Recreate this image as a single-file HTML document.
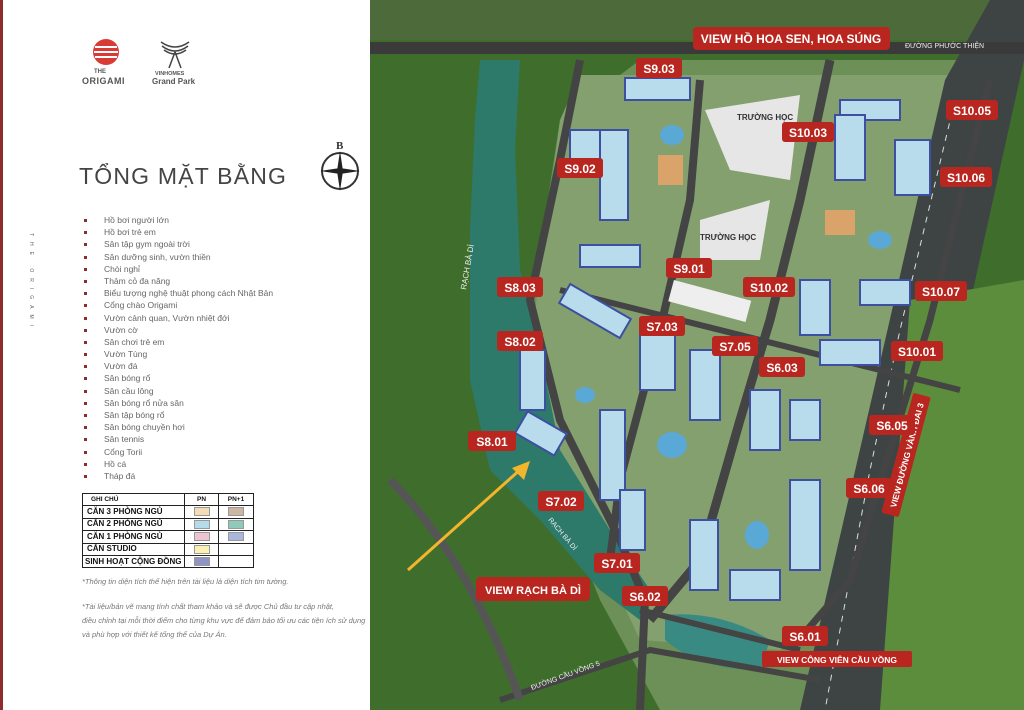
<!DOCTYPE html>
<html><head><meta charset="utf-8"><style>
*{margin:0;padding:0;box-sizing:border-box}
body{width:1024px;height:710px;overflow:hidden;background:#fff;font-family:"Liberation Sans","Noto Sans CJK SC",sans-serif;position:relative}
#left{position:absolute;left:0;top:0;width:370px;height:710px;background:#fff;border-left:3px solid #8e2b2b}
.t{position:absolute;color:#555}
ul{position:absolute;left:81px;top:214px;list-style:none}
li{font-size:8.5px;color:#666;height:12.2px;line-height:12.2px;position:relative;padding-left:20px}
li:before{content:"";position:absolute;left:0;top:5px;width:3px;height:3px;background:#8e2b2b}
table{position:absolute;left:79px;top:493px;border-collapse:collapse;font-size:8px;font-weight:bold;color:#111}
td{border:1px solid #222;height:12.4px;padding:0 4px;line-height:10px}
.sw{display:inline-block;width:16px;height:9px;border:1px solid #999;vertical-align:middle}
.n{position:absolute;font-size:7.5px;font-style:italic;color:#777;line-height:14px}
</style></head><body>
<div id="left">
<svg style="position:absolute;left:88px;top:38px" width="32" height="30" viewBox="0 0 32 30"><circle cx="15" cy="14" r="13" fill="#d83a36"/><path d="M4 9h22M3 14h24M4 19h22" stroke="#fff" stroke-width="2"/></svg>
<div class="t" style="left:91px;top:69px;font-size:6px;font-weight:bold">THE</div>
<div class="t" style="left:79px;top:76px;font-size:9px;font-weight:bold;letter-spacing:0.5px">ORIGAMI</div>
<svg style="position:absolute;left:156px;top:38px" width="32" height="32"><path d="M2 4 Q16 14 30 4 M3 8 Q16 18 29 8 M5 12 Q16 20 27 12 M10 30 L16 14 L22 30" stroke="#444" fill="none" stroke-width="1.5"/></svg>
<div class="t" style="left:152px;top:71px;font-size:5.5px;font-weight:bold">VINHOMES</div>
<div class="t" style="left:149px;top:77px;font-size:8px;font-weight:bold">Grand Park</div>
<div class="t" style="left:76px;top:163px;font-size:23px;letter-spacing:1.2px;color:#444">TỔNG MẶT BẰNG</div>
<svg style="position:absolute;left:314px;top:136px" width="46" height="56"><text x="19" y="13" font-family="Liberation Serif" font-weight="bold" font-size="11" fill="#333">B</text><circle cx="23" cy="35" r="18" fill="none" stroke="#333" stroke-width="2"/><path d="M23 15 L26 35 L23 55 L20 35Z M3 35 L23 32 L43 35 L23 38Z" fill="#222"/></svg>
<div class="t" style="left:18px;top:320px;font-size:5px;letter-spacing:6px;transform:rotate(90deg);transform-origin:center;width:180px;margin-left:-80px;color:#666">THE ORIGAMI</div>
<ul>
<li>Hồ bơi người lớn</li><li>Hồ bơi trẻ em</li><li>Sân tập gym ngoài trời</li><li>Sân dưỡng sinh, vườn thiền</li><li>Chòi nghỉ</li><li>Thảm cỏ đa năng</li><li>Biểu tượng nghệ thuật phong cách Nhật Bản</li><li>Cổng chào Origami</li><li>Vườn cảnh quan, Vườn nhiệt đới</li><li>Vườn cờ</li><li>Sân chơi trẻ em</li><li>Vườn Tùng</li><li>Vườn đá</li><li>Sân bóng rổ</li><li>Sân cầu lông</li><li>Sân bóng rổ nửa sân</li><li>Sân tập bóng rổ</li><li>Sân bóng chuyền hơi</li><li>Sân tennis</li><li>Cổng Torii</li><li>Hồ cá</li><li>Tháp đá</li>
</ul>
<table>
<tr><td style="width:102px;font-size:6.5px;padding-left:8px">GHI CHÚ</td><td style="width:34px;text-align:center;font-size:6.5px">PN</td><td style="width:35px;text-align:center;font-size:6.5px">PN+1</td></tr>
<tr><td>CĂN 3 PHÒNG NGỦ</td><td style="text-align:center"><span class="sw" style="background:#f3dcb6"></span></td><td style="text-align:center"><span class="sw" style="background:#cbb7a2"></span></td></tr>
<tr><td>CĂN 2 PHÒNG NGỦ</td><td style="text-align:center"><span class="sw" style="background:#b4dced"></span></td><td style="text-align:center"><span class="sw" style="background:#8ecab7"></span></td></tr>
<tr><td>CĂN 1 PHÒNG NGỦ</td><td style="text-align:center"><span class="sw" style="background:#edc5d2"></span></td><td style="text-align:center"><span class="sw" style="background:#a9b7d9"></span></td></tr>
<tr><td>CĂN STUDIO</td><td style="text-align:center"><span class="sw" style="background:#fcf1b4"></span></td><td></td></tr>
<tr><td style="padding:0 2px">SINH HOẠT CỘNG ĐỒNG</td><td style="text-align:center"><span class="sw" style="background:#8f95c2"></span></td><td></td></tr>
</table>
<div class="n" style="left:79px;top:575px">*Thông tin diện tích thể hiện trên tài liệu là diện tích tim tường.</div>
<div class="n" style="left:79px;top:600px">*Tài liệu/bản vẽ mang tính chất tham khảo và sẽ được Chủ đầu tư cập nhật,<br>điều chỉnh tại mỗi thời điểm cho từng khu vực để đảm bảo tối ưu các tiện ích sử dụng<br>và phù hợp với thiết kế tổng thể của Dự Án.</div>
</div>
<svg style="position:absolute;left:370px;top:0" width="654" height="710" viewBox="370 0 654 710">
<rect x="370" y="0" width="654" height="710" fill="#3f6e2c"/>
<rect x="370" y="0" width="654" height="40" fill="#4d6a3a"/>
<path d="M640 60 L1000 60 L880 710 L660 710 L600 600 L560 500 L520 380 L560 120Z" fill="#6d8f58"/>
<path d="M580 75 L990 75 L900 430 L860 610 L780 650 L640 640 L560 470 L530 350 L560 120Z" fill="#84a06f"/>
<path d="M480 60 L520 60 L515 150 L520 270 L540 350 L560 450 L610 530 L650 590 L640 620 L600 590 L540 520 L490 470 L470 380 L470 230 L475 120Z" fill="#2d7a6a"/>
<path d="M665 615 Q720 610 770 640 L760 670 Q700 670 665 640Z" fill="#3a8a84"/>
<path d="M990 0 L1024 0 L1024 60 L880 710 L800 710 L945 80Z" fill="#3e4444"/>
<path d="M955 100 L900 330 L870 470 L825 710" stroke="#ddd" stroke-width="1" fill="none" stroke-dasharray="6 6"/>
<path d="M910 300 L1024 280 L1024 710 L880 710Z" fill="#5b8d3c"/>
<rect x="370" y="42" width="654" height="12" fill="#3a3a3a"/>
<path d="M580 60 L560 160 L530 300 L560 420 L620 540 L645 600 L640 710" stroke="#444" stroke-width="8" fill="none"/>
<path d="M700 80 L690 200 L660 330 L620 480 L610 560" stroke="#444" stroke-width="8" fill="none"/>
<path d="M830 60 L800 200 L770 320 L740 420 L700 560 L650 620" stroke="#444" stroke-width="9" fill="none"/>
<path d="M990 80 L960 200 L930 320 L890 450 L850 580 L790 650" stroke="#444" stroke-width="7" fill="none"/>
<path d="M560 290 L960 390 M640 610 L800 650 M500 700 L650 650 L820 680" stroke="#444" stroke-width="6" fill="none"/>
<path d="M390 480 Q470 560 520 700" stroke="#555" stroke-width="8" fill="none"/>
<path d="M705 110 L800 95 L790 180 L730 170Z M700 220 L770 200 L760 260 L700 260Z" fill="#e6e6e6"/>
<rect x="670" y="290" width="80" height="22" fill="#eee" transform="rotate(15 710 300)"/>
<g fill="#b9dcec" stroke="#3c4fa0" stroke-width="2">
<rect x="625" y="78" width="65" height="22"/><rect x="600" y="130" width="28" height="90"/><rect x="580" y="245" width="60" height="22"/><rect x="560" y="300" width="70" height="22" transform="rotate(30 595 311)"/>
<rect x="520" y="350" width="25" height="60"/><rect x="520" y="420" width="45" height="25" transform="rotate(30 540 430)"/><rect x="600" y="410" width="25" height="90"/><rect x="640" y="330" width="35" height="60"/>
<rect x="690" y="350" width="30" height="70"/><rect x="750" y="390" width="30" height="60"/><rect x="790" y="400" width="30" height="40"/><rect x="620" y="490" width="25" height="60"/>
<rect x="690" y="520" width="28" height="70"/><rect x="730" y="570" width="50" height="30"/><rect x="790" y="480" width="30" height="90"/><rect x="840" y="100" width="60" height="20"/>
<rect x="835" y="115" width="30" height="65"/><rect x="895" y="140" width="35" height="55"/><rect x="860" y="280" width="50" height="25"/><rect x="800" y="280" width="30" height="55"/><rect x="820" y="340" width="60" height="25"/><rect x="570" y="130" width="30" height="40"/>
</g>
<g fill="#5aa8d6"><ellipse cx="672" cy="135" rx="12" ry="10"/><ellipse cx="672" cy="445" rx="15" ry="13"/><ellipse cx="757" cy="535" rx="12" ry="14"/><ellipse cx="880" cy="240" rx="12" ry="9"/><ellipse cx="585" cy="395" rx="10" ry="8"/></g>
<g fill="#d9a36a"><rect x="658" y="155" width="25" height="30"/><rect x="825" y="210" width="30" height="25"/></g>
<line x1="408" y1="570" x2="522" y2="468" stroke="#f2b52c" stroke-width="3"/>
<path d="M530 461 L512 468 L524 480Z" fill="#f2b52c"/>
<g font-family="Liberation Sans" font-weight="bold" fill="#fff" font-size="12" text-anchor="middle">
<rect x="693" y="27" width="197" height="23" rx="4" fill="#b8261f"/><text x="791" y="43" font-size="12">VIEW HỒ HOA SEN, HOA SÚNG</text>
<rect x="476" y="577" width="114" height="24" rx="4" fill="#b8261f"/><text x="533" y="594" font-size="11">VIEW RẠCH BÀ DÌ</text>
<rect x="762" y="651" width="150" height="16" rx="2" fill="#b8261f"/><text x="837" y="663" font-size="8.5">VIEW CÔNG VIÊN CẦU VỒNG</text>
<g transform="translate(906 455) rotate(-75)"><rect x="-62" y="-9" width="124" height="18" rx="2" fill="#b8261f"/><text x="0" y="4" font-size="8.5">VIEW ĐƯỜNG VÀNH ĐAI 3</text></g>
<g font-size="12">
<rect x="636" y="58" width="46" height="20" rx="3" fill="#b8261f"/><text x="659" y="73">S9.03</text>
<rect x="557" y="158" width="46" height="20" rx="3" fill="#b8261f"/><text x="580" y="173">S9.02</text>
<rect x="497" y="277" width="46" height="20" rx="3" fill="#b8261f"/><text x="520" y="292">S8.03</text>
<rect x="497" y="331" width="46" height="20" rx="3" fill="#b8261f"/><text x="520" y="346">S8.02</text>
<rect x="468" y="431" width="48" height="20" rx="3" fill="#b8261f"/><text x="492" y="446">S8.01</text>
<rect x="538" y="491" width="46" height="20" rx="3" fill="#b8261f"/><text x="561" y="506">S7.02</text>
<rect x="594" y="553" width="46" height="20" rx="3" fill="#b8261f"/><text x="617" y="568">S7.01</text>
<rect x="622" y="586" width="46" height="20" rx="3" fill="#b8261f"/><text x="645" y="601">S6.02</text>
<rect x="782" y="626" width="46" height="20" rx="3" fill="#b8261f"/><text x="805" y="641">S6.01</text>
<rect x="869" y="415" width="46" height="20" rx="3" fill="#b8261f"/><text x="892" y="430">S6.05</text>
<rect x="846" y="478" width="46" height="20" rx="3" fill="#b8261f"/><text x="869" y="493">S6.06</text>
<rect x="759" y="357" width="46" height="20" rx="3" fill="#b8261f"/><text x="782" y="372">S6.03</text>
<rect x="712" y="336" width="46" height="20" rx="3" fill="#b8261f"/><text x="735" y="351">S7.05</text>
<rect x="639" y="316" width="46" height="20" rx="3" fill="#b8261f"/><text x="662" y="331">S7.03</text>
<rect x="666" y="258" width="46" height="20" rx="3" fill="#b8261f"/><text x="689" y="273">S9.01</text>
<rect x="743" y="277" width="52" height="20" rx="3" fill="#b8261f"/><text x="769" y="292">S10.02</text>
<rect x="891" y="341" width="52" height="20" rx="3" fill="#b8261f"/><text x="917" y="356">S10.01</text>
<rect x="915" y="281" width="52" height="20" rx="3" fill="#b8261f"/><text x="941" y="296">S10.07</text>
<rect x="940" y="167" width="52" height="20" rx="3" fill="#b8261f"/><text x="966" y="182">S10.06</text>
<rect x="946" y="100" width="52" height="20" rx="3" fill="#b8261f"/><text x="972" y="115">S10.05</text>
<rect x="782" y="122" width="52" height="20" rx="3" fill="#b8261f"/><text x="808" y="137">S10.03</text>
</g></g>
<g font-family="Liberation Sans" font-size="7" fill="#eee">
<text x="905" y="48">ĐƯỜNG PHƯỚC THIỆN</text>
<text x="737" y="120" fill="#333" font-weight="bold" font-size="8">TRƯỜNG HỌC</text>
<text x="700" y="240" fill="#333" font-weight="bold" font-size="8">TRƯỜNG HỌC</text>
<text transform="translate(548 520) rotate(50)">RẠCH BÀ DÌ</text>
<text transform="translate(532 690) rotate(-20)">ĐƯỜNG CẦU VỒNG 5</text>
<text transform="translate(466 290) rotate(-80)" font-size="8">RẠCH BÀ DÌ</text>
</g>
</svg>
</body></html>
